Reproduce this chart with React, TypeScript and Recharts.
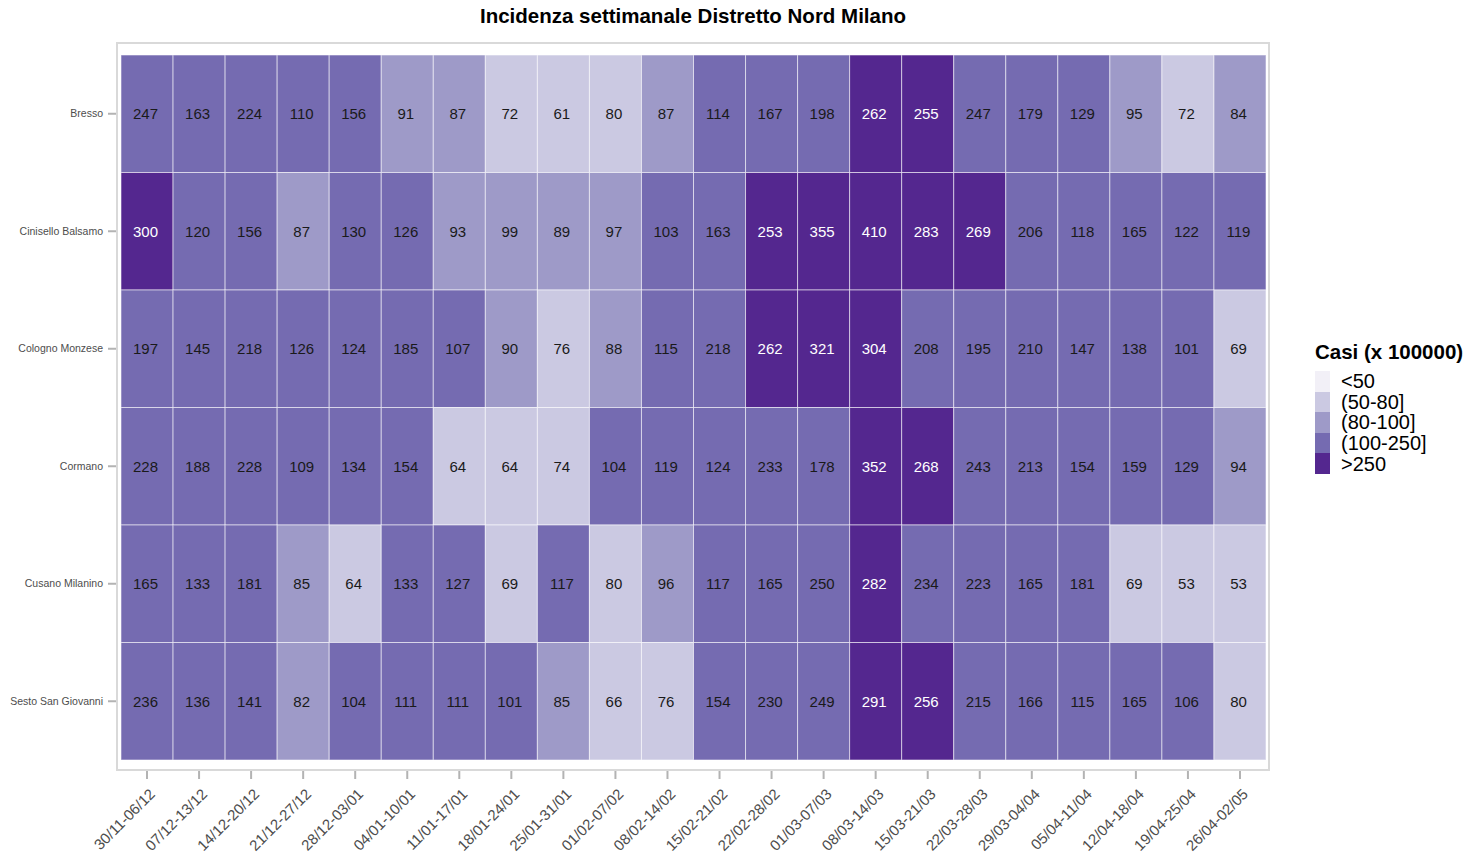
import React from 'react';
import { ScatterChart, Scatter, XAxis, YAxis } from 'recharts';

const weeks = [
  '30/11-06/12', '07/12-13/12', '14/12-20/12', '21/12-27/12', '28/12-03/01', '04/01-10/01',
  '11/01-17/01', '18/01-24/01', '25/01-31/01', '01/02-07/02', '08/02-14/02', '15/02-21/02',
  '22/02-28/02', '01/03-07/03', '08/03-14/03', '15/03-21/03', '22/03-28/03', '29/03-04/04',
  '05/04-11/04', '12/04-18/04', '19/04-25/04', '26/04-02/05',
];

const towns = ['Bresso', 'Cinisello Balsamo', 'Cologno Monzese', 'Cormano', 'Cusano Milanino', 'Sesto San Giovanni'];

const bresso = [247, 163, 224, 110, 156, 91, 87, 72, 61, 80, 87, 114, 167, 198, 262, 255, 247, 179, 129, 95, 72, 84];
const cinisello = [300, 120, 156, 87, 130, 126, 93, 99, 89, 97, 103, 163, 253, 355, 410, 283, 269, 206, 118, 165, 122, 119];
const cologno = [197, 145, 218, 126, 124, 185, 107, 90, 76, 88, 115, 218, 262, 321, 304, 208, 195, 210, 147, 138, 101, 69];
const cormano = [228, 188, 228, 109, 134, 154, 64, 64, 74, 104, 119, 124, 233, 178, 352, 268, 243, 213, 154, 159, 129, 94];
const cusano = [165, 133, 181, 85, 64, 133, 127, 69, 117, 80, 96, 117, 165, 250, 282, 234, 223, 165, 181, 69, 53, 53];
const sesto = [236, 136, 141, 82, 104, 111, 111, 101, 85, 66, 76, 154, 230, 249, 291, 256, 215, 166, 115, 165, 106, 80];

const rows = [bresso, cinisello, cologno, cormano, cusano, sesto];

const classLabels = ['<50', '(50-80]', '(80-100]', '(100-250]', '>250'];
const classColors = ['#f2f0f7', '#cbc9e2', '#9e9ac8', '#756bb1', '#54278f'];
const classBreaks = [50, 80, 100, 250];

const classOf = (v: number) => {
  const i = classBreaks.findIndex(b => v <= b);
  return i === -1 ? classBreaks.length : i;
};

const cells = towns.flatMap((town, r) =>
  weeks.map((week, c) => ({ town, week, value: rows[r][c] }))
);

// layout of the plot area
const W = 1469;
const H = 856;
const PLOT_L = 121;
const PLOT_R = 1266;
const PLOT_T = 55;
const PLOT_B = 760;
const CELL_W = (PLOT_R - PLOT_L) / weeks.length;
const CELL_H = (PLOT_B - PLOT_T) / towns.length;
const FONT = '"Liberation Sans", Arial, Helvetica, sans-serif';

const Tile = (props: any) => {
  const { cx, cy, payload } = props;
  const k = classOf(payload.value);
  return (
    <g>
      <rect
        x={cx - CELL_W / 2}
        y={cy - CELL_H / 2}
        width={CELL_W}
        height={CELL_H}
        fill={classColors[k]}
        stroke="#ffffff"
        strokeOpacity={0.55}
        strokeWidth={1}
      />
      <text
        x={cx - 1.5}
        y={cy}
        dy="0.36em"
        textAnchor="middle"
        fontSize={15}
        fontFamily={FONT}
        fill={k === 4 ? '#ffffff' : '#1a1a1a'}
      >
        {payload.value}
      </text>
    </g>
  );
};

const WeekTick = ({ x, y, payload }: any) => (
  <g>
    <line x1={x} x2={x} y1={y + 11} y2={y + 19} stroke="#b3b3b3" strokeWidth={2} />
    <text
      x={x + 9}
      y={y + 35}
      textAnchor="end"
      transform={`rotate(-45 ${x + 9} ${y + 35})`}
      fontSize={15}
      fontFamily={FONT}
      fill="#4d4d4d"
    >
      {payload.value}
    </text>
  </g>
);

const TownTick = ({ x, y, payload }: any) => (
  <g>
    <line x1={x - 13} x2={x - 5} y1={y} y2={y} stroke="#b3b3b3" strokeWidth={2} />
    <text x={x - 18} y={y} dy="0.35em" textAnchor="end" fontSize={10.5} fontFamily={FONT} fill="#4d4d4d">
      {payload.value}
    </text>
  </g>
);

export default function App() {
  return (
    <div style={{ position: 'absolute', left: 0, top: 0, width: W, height: H, background: '#fff', fontFamily: FONT }}>
      <div
        style={{
          position: 'absolute', left: 0, width: 1386, top: 4, textAlign: 'center',
          fontSize: 20.5, fontWeight: 'bold', color: '#000', lineHeight: '24px',
        }}
      >
        Incidenza settimanale Distretto Nord Milano
      </div>
      <div
        style={{
          position: 'absolute', left: 116, top: 42, width: 1154, height: 729,
          border: '2px solid #d9d9d9', boxSizing: 'border-box',
        }}
      />
      <div style={{ position: 'absolute', left: 0, top: 0 }}>
        <ScatterChart
          width={W}
          height={H}
          margin={{ top: PLOT_T, right: W - PLOT_R, bottom: H - PLOT_B - 90, left: PLOT_L - 110 }}
        >
          <XAxis
            type="category"
            dataKey="week"
            allowDuplicatedCategory={false}
            height={90}
            axisLine={false}
            tickLine={false}
            tickSize={0}
            tickMargin={0}
            interval={0}
            tick={<WeekTick />}
          />
          <YAxis
            type="category"
            dataKey="town"
            allowDuplicatedCategory={false}
            width={110}
            reversed
            axisLine={false}
            tickLine={false}
            tickSize={0}
            tickMargin={0}
            interval={0}
            tick={<TownTick />}
          />
          <Scatter data={cells} shape={<Tile />} isAnimationActive={false} />
        </ScatterChart>
      </div>
      <div style={{ position: 'absolute', left: 1315, top: 339 }}>
        <div style={{ fontSize: 20.5, fontWeight: 'bold', color: '#000', lineHeight: '26px', marginBottom: 6 }}>
          Casi (x 100000)
        </div>
        {classLabels.map((label, i) => (
          <div key={label} style={{ display: 'flex', alignItems: 'center', height: 20.6 }}>
            <div style={{ width: 15, height: 20.6, background: classColors[i] }} />
            <span style={{ marginLeft: 11, fontSize: 20, lineHeight: '20px', color: '#000' }}>{label}</span>
          </div>
        ))}
      </div>
    </div>
  );
}
